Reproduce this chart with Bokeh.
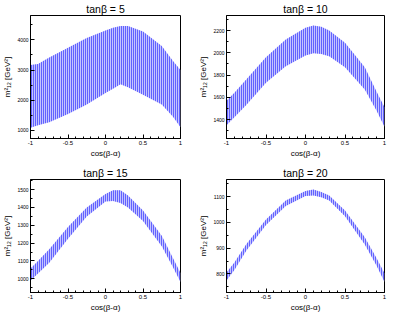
from bokeh.plotting import figure
from bokeh.layouts import column, row
from bokeh.models import SingleIntervalTicker, CustomJSTickFormatter, Range1d
from bokeh.embed import file_html
from bokeh.resources import INLINE

# cos(beta-alpha) sample points
x_vals = [-1, -0.9, -0.75, -0.5, -0.25, 0, 0.1, 0.2, 0.3, 0.5, 0.75, 0.9, 1]

# tanb = 5
upper_5 = [3170, 3200, 3420, 3740, 4060, 4310, 4400, 4460, 4460, 4280, 3800, 3300, 3000]
lower_5 = [1090, 1170, 1270, 1540, 1860, 2240, 2380, 2530, 2430, 2180, 1860, 1450, 1100]
# tanb = 10
upper_10 = [1570, 1640, 1760, 1960, 2120, 2225, 2245, 2235, 2200, 2090, 1870, 1650, 1510]
lower_10 = [1350, 1420, 1530, 1730, 1880, 1975, 1995, 1990, 1970, 1870, 1670, 1480, 1335]
# tanb = 15
upper_15 = [1057, 1100, 1166, 1291, 1400, 1475, 1497, 1497, 1467, 1383, 1241, 1115, 1032]
lower_15 = [990, 1030, 1090, 1224, 1349, 1433, 1436, 1425, 1400, 1324, 1182, 1065, 982]
# tanb = 20
upper_20 = [806, 845, 915, 1012, 1085, 1122, 1128, 1118, 1105, 1047, 943, 861, 803]
lower_20 = [775, 815, 890, 990, 1064, 1103, 1105, 1098, 1085, 1024, 914, 832, 769]

titles = ["tan\u03b2 = 5", "tan\u03b2 = 10", "tan\u03b2 = 15", "tan\u03b2 = 20"]
y_ranges = [(730, 4810), (1230, 2335), (923, 1557), (728, 1167)]
y_intervals = [1000, 200, 100, 100]

FONT = "Liberation Sans"


def make_panel(title, lower, upper, yr, yint, width, height, bl, br, bt, bb):
    p = figure(width=width, height=height, output_backend="svg", toolbar_location=None,
               x_range=Range1d(-1, 1), y_range=Range1d(*yr),
               min_border_left=bl, min_border_right=br, min_border_top=bt, min_border_bottom=bb,
               background_fill_color="white", border_fill_color="white")
    p.title.text = title
    p.title.align = "center"
    p.title.text_font = FONT
    p.title.text_font_size = "10.5px"
    p.title.text_font_style = "normal"
    p.title.text_color = "black"
    p.title.standoff = 1
    p.grid.visible = False
    p.outline_line_color = "black"
    p.outline_line_width = 1

    p.varea(x=x_vals, y1=lower, y2=upper, fill_color="#c4c4ff", fill_alpha=1.0,
            hatch_pattern="vertical_line", hatch_color="#0000ff",
            hatch_scale=2, hatch_weight=1)

    xa = p.xaxis[0]
    xa.ticker = SingleIntervalTicker(interval=0.5, num_minor_ticks=5)
    xa.formatter = CustomJSTickFormatter(code="return String(Math.round(tick*10)/10);")
    xa.axis_label = "cos(\u03b2-\u03b1)"
    ya = p.yaxis[0]
    ya.ticker = SingleIntervalTicker(interval=yint, num_minor_ticks=2)
    ya.axis_label = "m\u00b2\u2081\u2082 [GeV\u00b2]"
    for ax in (xa, ya):
        ax.axis_label_text_font = FONT
        ax.axis_label_text_font_size = "8px"
        ax.axis_label_text_font_style = "normal"
        ax.axis_label_text_color = "black"
        ax.major_label_text_font = FONT
        ax.major_label_text_color = "black"
        ax.axis_line_color = "black"
        ax.major_tick_in = 4
        ax.major_tick_out = 0
        ax.minor_tick_in = 2
        ax.minor_tick_out = 0
        ax.major_tick_line_color = "black"
        ax.minor_tick_line_color = "black"
    xa.major_label_text_font_size = "6px"
    xa.major_label_standoff = 2
    xa.axis_label_standoff = 1
    ya.major_label_text_font_size = "5px"
    ya.major_label_standoff = 2
    ya.axis_label_standoff = 2
    return p


p1 = make_panel(titles[0], lower_5, upper_5, y_ranges[0], y_intervals[0], 196, 164, 22, 16, 13, 26)
p2 = make_panel(titles[1], lower_10, upper_10, y_ranges[1], y_intervals[1], 199, 164, 26, 11, 13, 26)
p3 = make_panel(titles[2], lower_15, upper_15, y_ranges[2], y_intervals[2], 196, 150, 22, 16, 13, 19)
p4 = make_panel(titles[3], lower_20, upper_20, y_ranges[3], y_intervals[3], 199, 150, 26, 11, 13, 19)

layout = column(row(p1, p2, spacing=0), row(p3, p4, spacing=0), spacing=0)

open("out.html", "w").write(file_html(layout, INLINE))
